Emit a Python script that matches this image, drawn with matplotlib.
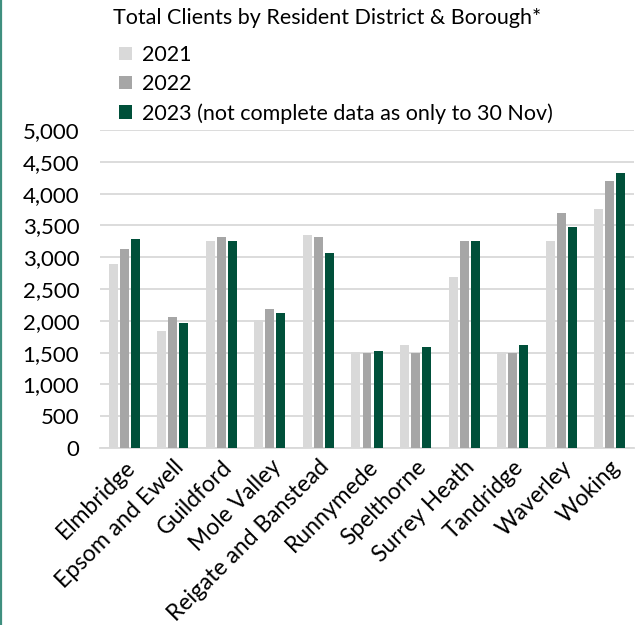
import matplotlib
matplotlib.use("Agg")
import matplotlib.pyplot as plt
import numpy as np
from matplotlib.lines import Line2D

# Client counts by resident district / borough
districts = ["Elmbridge", "Epsom and Ewell", "Guildford", "Mole Valley",
             "Reigate and Banstead", "Runnymede", "Spelthorne", "Surrey Heath",
             "Tandridge", "Waverley", "Woking"]
clients_2021 = [2900, 1840, 3255, 2010, 3350, 1505, 1620, 2690, 1510, 3255, 3760]
clients_2022 = [3125, 2060, 3320, 2185, 3320, 1495, 1495, 3255, 1495, 3695, 4200]
clients_2023 = [3290, 1965, 3255, 2120, 3065, 1525, 1590, 3255, 1620, 3475, 4325]
series_labels = ["2021", "2022", "2023 (not complete data as only to 30 Nov)"]
y_ticks = [0, 500, 1000, 1500, 2000, 2500, 3000, 3500, 4000, 4500, 5000]

colors = ["#d9d9d9", "#a6a6a6", "#00503a"]
font = "Lato"
plt.rcParams["font.family"] = [font, "DejaVu Sans"]

W, H = 635, 625
fig = plt.figure(figsize=(W / 100, H / 100), dpi=100)
ax = fig.add_axes([100 / W, 1 - 448 / H, 534 / W, 318 / H])

x = np.arange(len(districts))
offset, width = 0.227, 0.185
handles = []
for i, (vals, c, lab) in enumerate(zip([clients_2021, clients_2022, clients_2023],
                                        colors, series_labels)):
    b = ax.bar(x + (i - 1) * offset, vals, width=width, color=c, label=lab, zorder=3)
    handles.append(b)

ax.set_xlim(-0.5, len(districts) - 0.5)
ax.set_ylim(0, 5000)
ax.set_yticks(y_ticks)
ax.set_yticklabels([f"{v:,}" for v in y_ticks])
ax.yaxis.grid(True, color="#d9d9d9", linewidth=1.3, zorder=0)
ax.set_axisbelow(True)
for s in ["top", "right", "left"]:
    ax.spines[s].set_visible(False)
ax.spines["bottom"].set_color("#d9d9d9")
ax.spines["bottom"].set_linewidth(1.3)
ax.tick_params(axis="y", length=0, pad=15, labelsize=16, labelcolor="#000000")
ax.tick_params(axis="x", length=0, pad=6)
ax.set_xticks(x)
ax.set_xticklabels(districts, rotation=45, ha="right", va="top",
                   rotation_mode="anchor", fontsize=16.5)

fig.text(113 / W, 1 - 18 / H, "Total Clients by Resident District & Borough*",
         fontsize=15.5, ha="left", va="center")

fig.legend(handles=handles, labels=series_labels, loc="upper left",
           bbox_to_anchor=(119 / W, 1 - 45 / H), frameon=False, fontsize=15.5,
           handlelength=0.6, handleheight=0.6, handletextpad=0.45,
           labelspacing=0.42, borderpad=0, borderaxespad=0)

# thin accent border on the left edge
fig.add_artist(Line2D([1 / W, 1 / W], [0, 1], transform=fig.transFigure,
                      color="#3f8f7f", linewidth=1.6))

fig.savefig("out.png", dpi=100)
